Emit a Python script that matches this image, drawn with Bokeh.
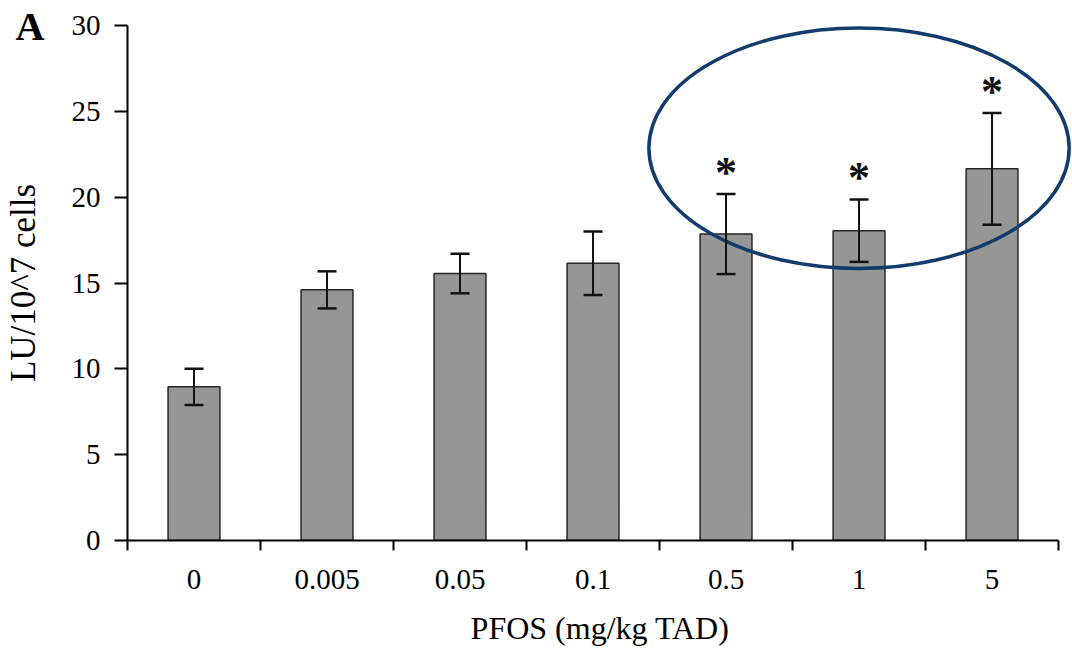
from bokeh.plotting import figure
from bokeh.models import (Range1d, FixedTicker, ColumnDataSource, Whisker, TeeHead,
                          LinearAxis, CustomJSTickFormatter)
from bokeh.core.properties import value
from bokeh.embed import file_html
from bokeh.resources import INLINE

# ---- data ----
doses = ["0", "0.005", "0.05", "0.1", "0.5", "1", "5"]
means = [8.95, 14.6, 15.55, 16.15, 17.85, 18.05, 21.65]
errors = [1.05, 1.08, 1.15, 1.85, 2.33, 1.82, 3.25]
significant = [False, False, False, False, True, True, True]
y_ticks = [0, 5, 10, 15, 20, 25, 30]

FONT = "Liberation Serif"

xs = [i + 0.5 for i in range(len(doses))]
upper = [m + e for m, e in zip(means, errors)]
lower = [m - e for m, e in zip(means, errors)]
src = ColumnDataSource(dict(x=xs, mean=means, upper=upper, lower=lower))

p = figure(width=1072, height=653,
           x_range=Range1d(0, 7.105), y_range=Range1d(0, 30),
           output_backend="svg", toolbar_location=None,
           min_border_left=127, min_border_right=0,
           min_border_top=25, min_border_bottom=113)
p.background_fill_color = "white"
p.border_fill_color = "white"
p.outline_line_color = None
p.xgrid.visible = False
p.ygrid.visible = False

# bars
p.vbar(x="x", top="mean", bottom=0, width=0.39, source=src,
       fill_color="#969696", line_color="#262626", line_width=1.5)

# error bars
whisk = Whisker(source=src, base="x", upper="upper", lower="lower",
                line_color="#111111", line_width=2, level="overlay",
                upper_head=TeeHead(size=19, line_color="#111111", line_width=2.5),
                lower_head=TeeHead(size=19, line_color="#111111", line_width=2.5))
p.add_layout(whisk)

# significance asterisks
sx = [x for x, s in zip(xs, significant) if s]
sy = [u for u, s in zip(upper, significant) if s]
p.text(x=sx, y=sy, text=["*"] * len(sx), text_font=value(FONT),
       text_font_size=value("44px"), text_font_style="bold",
       text_align="center", text_baseline="alphabetic", y_offset=-22,
       text_color="#111111")

# highlight ellipse around the significant groups
sig_idx = [i for i, s in enumerate(significant) if s]
cx = (xs[sig_idx[0]] + xs[sig_idx[-1]]) / 2
p.ellipse(x=[cx], y=[22.85], width=[3.16], height=[14.0],
          fill_color=None, line_color="#113c6b", line_width=3.5)

# x axis
xa = p.xaxis[0]
xa.ticker = FixedTicker(ticks=xs, minor_ticks=list(range(len(doses) + 1)))
xa.formatter = CustomJSTickFormatter(args=dict(labels=doses),
                                     code="return labels[Math.floor(tick)];")
xa.bounds = (0, len(doses))
xa.axis_line_color = "black"
xa.axis_line_width = 2
xa.major_tick_out = 0
xa.major_tick_in = 0
xa.minor_tick_out = 10
xa.minor_tick_in = 0
xa.minor_tick_line_color = "black"
xa.minor_tick_line_width = 2
xa.major_label_text_font = FONT
xa.major_label_text_font_size = "29px"
xa.major_label_text_color = "black"
xa.major_label_standoff = 19
xa.axis_label = "PFOS (mg/kg TAD)"
xa.axis_label_text_font = FONT
xa.axis_label_text_font_size = "32px"
xa.axis_label_text_font_style = "normal"
xa.axis_label_text_color = "black"
xa.axis_label_standoff = 18

# y axis
ya = p.yaxis[0]
ya.ticker = FixedTicker(ticks=y_ticks, minor_ticks=[])
ya.axis_line_color = "black"
ya.axis_line_width = 2
ya.major_tick_out = 13
ya.major_tick_in = 0
ya.major_tick_line_color = "black"
ya.major_tick_line_width = 2
ya.minor_tick_out = 0
ya.minor_tick_in = 0
ya.major_label_text_font = FONT
ya.major_label_text_font_size = "29px"
ya.major_label_text_color = "black"
ya.major_label_standoff = 14
ya.axis_label = "LU/10^7 cells"
ya.axis_label_text_font = FONT
ya.axis_label_text_font_size = "35px"
ya.axis_label_text_font_style = "normal"
ya.axis_label_text_color = "black"
ya.axis_label_standoff = 26

# panel letter, carried by an outer, line-less axis
a_axis = LinearAxis(ticker=FixedTicker(ticks=[29.95], minor_ticks=[]),
                    formatter=CustomJSTickFormatter(code="return 'A';"),
                    axis_line_color=None, major_tick_line_color=None,
                    minor_tick_line_color=None, major_tick_out=0, major_tick_in=0,
                    minor_tick_out=0, minor_tick_in=0,
                    major_label_standoff=-44,
                    major_label_text_font=FONT, major_label_text_font_size="40px",
                    major_label_text_font_style="bold", major_label_text_color="black")
p.add_layout(a_axis, "left")

open("out.html", "w").write(file_html(p, INLINE))
